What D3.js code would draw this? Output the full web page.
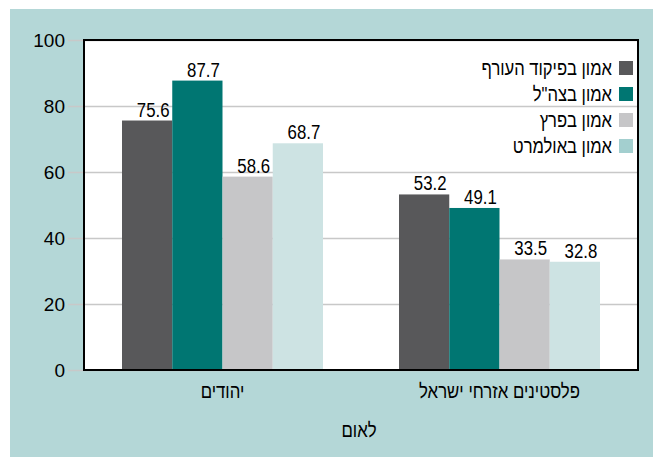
<!DOCTYPE html>
<html>
<head>
<meta charset="utf-8">
<script src="https://cdn.jsdelivr.net/npm/d3@7/dist/d3.min.js"></script>
<style>
body { margin: 0; background: white; }
text { font-family: "Liberation Sans", Arial, sans-serif; }
</style>
</head>
<body>
<div id="chart"></div>
<script>
// Chart data
var categories = ["יהודים", "פלסטינים אזרחי ישראל"];
var series = ["אמון בפיקוד העורף", "אמון בצה\"ל", "אמון בפרץ", "אמון באולמרט"];
var values = [
    [75.6, 87.7, 58.6, 68.7],
    [53.2, 49.1, 33.5, 32.8]
];
var yTicks = [0, 20, 40, 60, 80, 100];
var axisTitle = "לאום";

var barColors = ["#58585a", "#007672", "#c6c6c8", "#cde3e3"];
var swatchColors = ["#58585a", "#007672", "#c6c6c8", "#a3cfcf"];

// Plot geometry (note: "top" is reserved on window)
var W = 654, H = 457;
var plotL = 84, plotR = 638, plotT = 40, plotB = 370;

// No condensed font installed, so squeeze text horizontally
function narrowText(sel, x, y, s, size, anchor, str) {
    return sel.append("g")
        .attr("transform", "translate(" + x + "," + y + ") scale(" + s + ",1)")
        .append("text")
        .attr("text-anchor", anchor)
        .style("font-size", size + "px")
        .text(str);
}

var svg = d3.select("#chart").append("svg")
    .attr("width", W)
    .attr("height", H);

// Background panel
svg.append("rect")
    .attr("x", 10).attr("y", 9)
    .attr("width", 643).attr("height", H - 9)
    .attr("fill", "#b4d7d7");

// Plot area
svg.append("rect")
    .attr("x", plotL).attr("y", plotT)
    .attr("width", plotR - plotL).attr("height", plotB - plotT)
    .attr("fill", "white");

var y = d3.scaleLinear().domain([0, 100]).range([plotB, plotT]);
var x0 = d3.scaleBand().domain(categories).range([plotL, plotR])
    .paddingInner(0.2744).paddingOuter(0.1372);
var x1 = d3.scaleBand().domain(series).range([0, x0.bandwidth()]);

// Gridlines and tick labels
var yAxis = d3.axisLeft(y).tickValues(yTicks).tickSize(0).tickPadding(3);
var ga = svg.append("g")
    .attr("transform", "translate(68,0)")
    .call(yAxis);
ga.select(".domain").remove();
ga.selectAll(".tick line")
    .attr("x1", 0).attr("x2", plotR - 68)
    .attr("stroke", "#c8c8c8").attr("stroke-width", 1.5);
ga.selectAll(".tick text")
    .style("font-family", "\"Liberation Sans\", Arial, sans-serif")
    .style("font-size", "19px")
    .attr("fill", "black");

// Bars
var groups = svg.selectAll("g.grp")
    .data(values)
    .enter().append("g")
    .attr("class", "grp")
    .attr("transform", function(d, i) { return "translate(" + x0(categories[i]) + ",0)"; });

groups.selectAll("rect")
    .data(function(d) { return d; })
    .enter().append("rect")
    .attr("x", function(d, j) { return x1(series[j]); })
    .attr("y", function(d) { return y(d); })
    .attr("width", x1.bandwidth())
    .attr("height", function(d) { return plotB - y(d); })
    .attr("fill", function(d, j) { return barColors[j]; });

groups.each(function(row) {
    var g = d3.select(this);
    row.forEach(function(v, j) {
        narrowText(g, x1(series[j]) + x1.bandwidth() / 2 + 6, y(v) - 4, 0.8, 21, "middle", v.toFixed(1));
    });
});

// Frame
svg.append("rect")
    .attr("x", plotL).attr("y", plotT)
    .attr("width", plotR - plotL).attr("height", plotB - plotT)
    .attr("fill", "none")
    .attr("stroke", "black")
    .attr("stroke-width", 2);

// Category labels
categories.forEach(function(c) {
    narrowText(svg, x0(c) + x0.bandwidth() / 2, 398, 0.84, 20, "middle", c);
});

narrowText(svg, (plotL + plotR) / 2 - 2, 437, 0.84, 20, "middle", axisTitle);

// Legend
var legend = svg.selectAll("g.leg")
    .data(series)
    .enter().append("g")
    .attr("class", "leg")
    .attr("transform", function(d, i) { return "translate(619," + (68 + i * 26) + ")"; });
legend.append("rect")
    .attr("x", 0).attr("y", -7)
    .attr("width", 14).attr("height", 14)
    .attr("fill", function(d, i) { return swatchColors[i]; });
legend.each(function(d) {
    narrowText(d3.select(this), -7, 7, 0.83, 20, "end", d);
});
</script>
</body>
</html>
